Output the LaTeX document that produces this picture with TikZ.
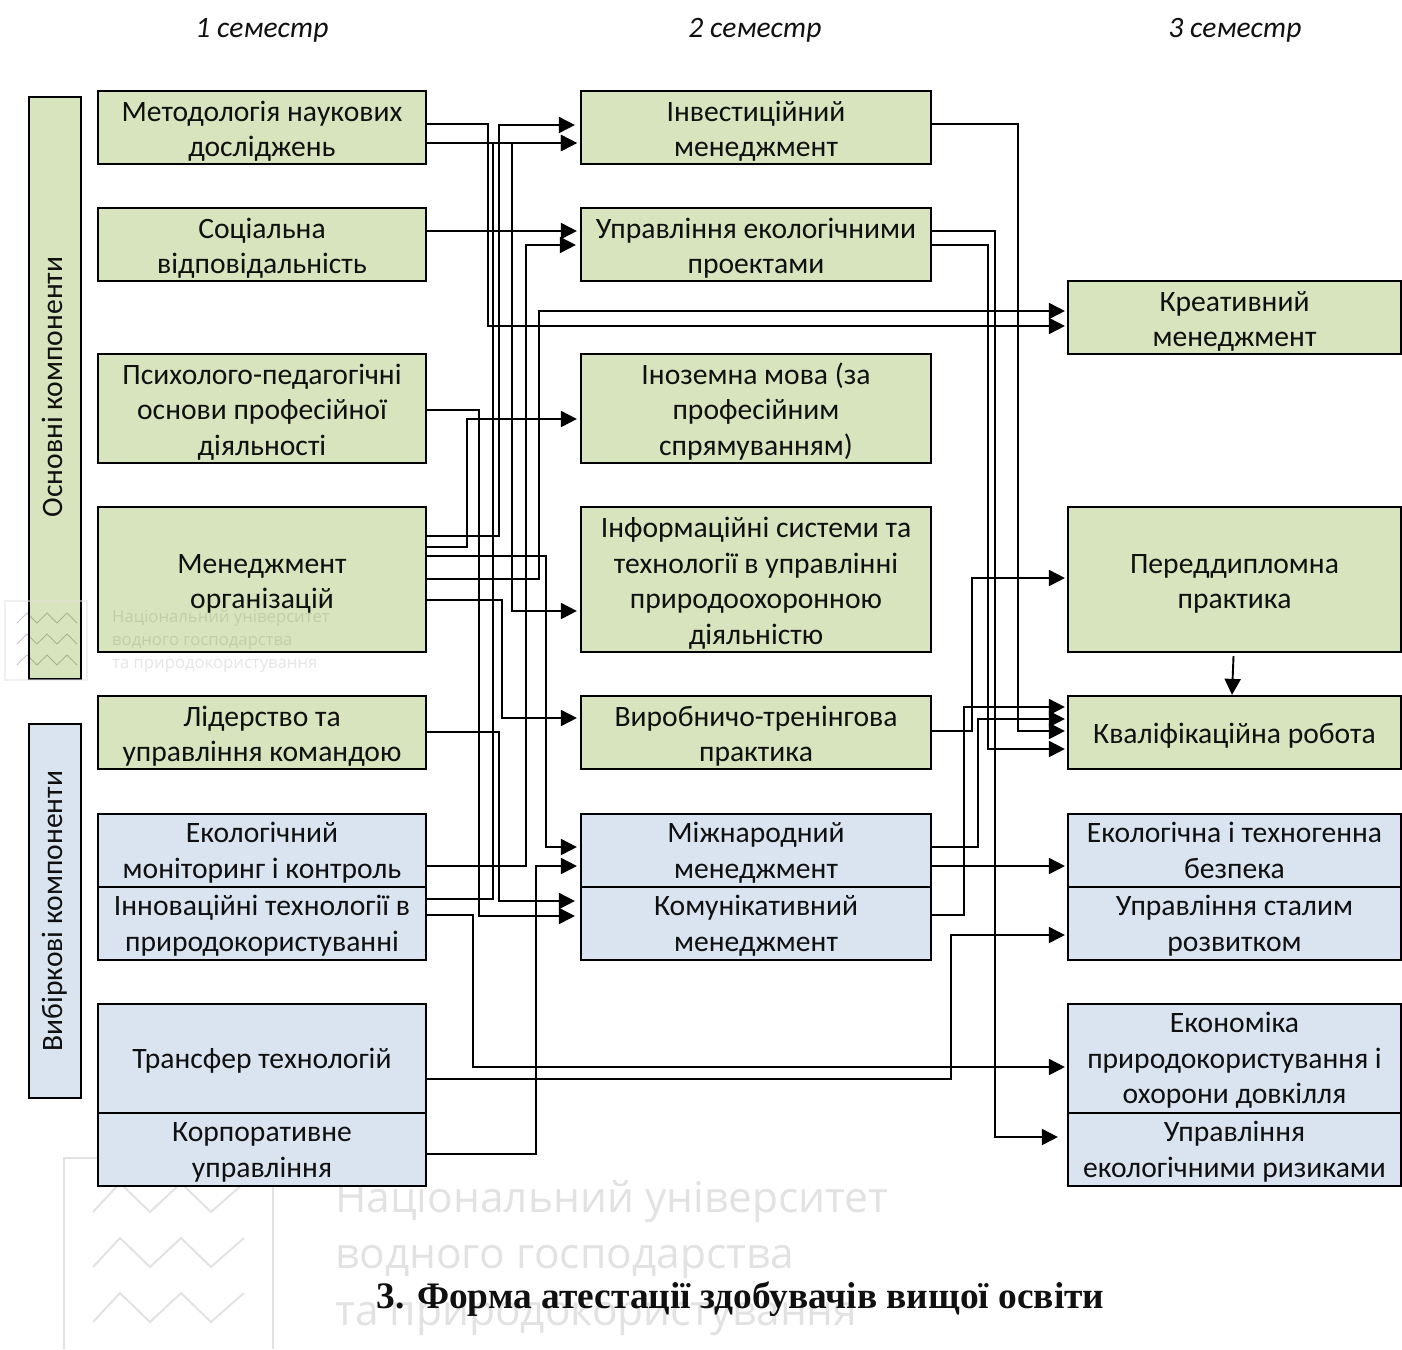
\documentclass[tikz,border=0pt]{standalone}
\usepackage{fontspec}
\setmainfont{Carlito}
\newfontfamily\titlefont{Liberation Serif}
\newfontfamily\markfont{Open Sans}
\usetikzlibrary{arrows.meta}
\definecolor{gn}{HTML}{D8E4BD}
\definecolor{bl}{HTML}{DAE4F1}
\definecolor{ink}{HTML}{101010}
\definecolor{wm}{HTML}{E2E2E2}
\newcommand\gtxt[1]{\raisebox{-10.4pt}[0pt][0pt]{\begin{tabular}[c]{@{}c@{}}#1\end{tabular}}}
\newcommand\btxt[1]{\raisebox{-8.9pt}[0pt][0pt]{\begin{tabular}[c]{@{}c@{}}#1\end{tabular}}}
\tikzset{
  boxbase/.style={draw=black,line width=2.2pt,inner sep=0pt,text=ink,
    font=\fontsize{29.6}{35.6}\selectfont},
  gbox/.style={boxbase,fill=gn},
  bbox/.style={boxbase,fill=bl},
  cola/.style={minimum width=328pt},
  colb/.style={minimum width=350pt},
  colc/.style={minimum width=333pt},
  conn/.style={line width=1.9pt,draw=black,shorten <=-2pt,shorten >=2pt,-{Triangle[length=16pt,width=16pt]}},
  head/.style={font=\fontsize{29.6}{30}\selectfont\itshape,text=ink},
  side/.style={boxbase,rotate=90,minimum height=52pt,line width=2.5pt},
  zig/.style={draw=wm,line width=2pt},
  marktext/.style={text=wm,inner sep=0pt,anchor=base west},
}
\begin{document}
\begin{tikzpicture}[x=1pt,y=-1pt]
\useasboundingbox (0,0) rectangle (1402,1349);
% large watermark (behind everything)
\draw[zig] (64,1349) -- (64,1158) -- (273,1158) -- (273,1349);
\foreach \yy in {0,55,110}{
  \draw[zig] (93,1212+\yy) -- (120,1183+\yy) -- (150,1212+\yy) -- (181,1183+\yy) -- (211,1212+\yy) -- (244,1183+\yy);
}
\node[marktext,font=\markfont\fontsize{42.5}{43}\selectfont] (wa) at (335,1212) {Національний університет};
\node[marktext,font=\markfont\fontsize{42.5}{43}\selectfont] (wb) at (335,1268) {водного господарства};
\node[marktext,font=\markfont\fontsize{42.5}{43}\selectfont] (wc) at (335,1325) {та природокористування};

% headers
\node[head] (h1) at (262,30) {1 семестр};
\node[head] (h2) at (755,30) {2 семестр};
\node[head] (h3) at (1235,30) {3 семестр};

% side boxes
\node[side,fill=gn,minimum width=582pt] (sa) at (55,388) {\raisebox{6pt}{\hspace*{2pt}Основні компоненти}};
\node[side,fill=bl,minimum width=374pt] (sb) at (55,911) {\raisebox{6pt}{Вибіркові компоненти}};

% column 1
\node[gbox,cola,minimum height=73pt] (m) at (262,127.5) {\gtxt{Методологія наукових\\досліджень}};
\node[gbox,cola,minimum height=73pt] (s) at (262,244.5) {\gtxt{Соціальна\\відповідальність}};
\node[gbox,cola,minimum height=109pt] (p) at (262,408.5) {\gtxt{Психолого-педагогічні\\основи професійної\\діяльності}};
\node[gbox,cola,minimum height=145pt] (o) at (262,579.5) {\gtxt{Менеджмент\\організацій}};
\node[gbox,cola,minimum height=73pt] (l) at (262,732.5) {\gtxt{Лідерство та\\управління командою}};
\node[bbox,cola,minimum height=73pt] (e) at (262,850.5) {\btxt{Екологічний\\моніторинг і контроль}};
\node[bbox,cola,minimum height=73pt] (i) at (262,923.5) {\btxt{Інноваційні технології в\\природокористуванні}};
\node[bbox,cola,minimum height=109pt] (t) at (262,1058.5) {\btxt{Трансфер технологій}};
\node[bbox,cola,minimum height=73pt] (k) at (262,1149.5) {\btxt{Корпоративне\\управління}};

% column 2
\node[gbox,colb,minimum height=73pt] (inv) at (756,127.5) {\gtxt{Інвестиційний\\менеджмент}};
\node[gbox,colb,minimum height=73pt] (upr) at (756,244.5) {\gtxt{Управління екологічними\\проектами}};
\node[gbox,colb,minimum height=109pt] (ino) at (756,408.5) {\gtxt{Іноземна мова (за\\професійним\\спрямуванням)}};
\node[gbox,colb,minimum height=145pt] (inf) at (756,579.5) {\gtxt{Інформаційні системи та\\технології в управлінні\\природоохоронною\\діяльністю}};
\node[gbox,colb,minimum height=73pt] (vyr) at (756,732.5) {\gtxt{Виробничо-тренінгова\\практика}};
\node[bbox,colb,minimum height=73pt] (miz) at (756,850.5) {\btxt{Міжнародний\\менеджмент}};
\node[bbox,colb,minimum height=73pt] (kom) at (756,923.5) {\btxt{Комунікативний\\менеджмент}};

% column 3
\node[gbox,colc,minimum height=73pt] (kre) at (1234.5,317.5) {\gtxt{Креативний\\менеджмент}};
\node[gbox,colc,minimum height=145pt] (per) at (1234.5,579.5) {\gtxt{Переддипломна\\практика}};
\node[gbox,colc,minimum height=73pt] (kva) at (1234.5,732.5) {\gtxt{Кваліфікаційна робота}};
\node[bbox,colc,minimum height=73pt] (ekb) at (1234.5,850.5) {\btxt{Екологічна і техногенна\\безпека}};
\node[bbox,colc,minimum height=73pt] (sta) at (1234.5,923.5) {\btxt{Управління сталим\\розвитком}};
\node[bbox,colc,minimum height=109pt] (eko) at (1234.5,1058.5) {\btxt{Економіка\\природокористування і\\охорони довкілля}};
\node[bbox,colc,minimum height=73pt] (riz) at (1234.5,1149.5) {\btxt{Управління\\екологічними ризиками}};

% title
\node[inner sep=0pt,anchor=base,text=ink,font=\titlefont\bfseries\fontsize{37.4}{38}\selectfont] (ttl) at (740.5,1308) {3. Форма атестації здобувачів вищої освіти};

% connectors col 1 -> col 2
\draw[conn] (m.east|-0,124) -- (488,124) -- (488,326) -- (kre.west|-0,326);
\draw[conn,shorten >=3pt] (m.east|-0,143) -- (inv.west|-0,143);
\draw[conn,shorten >=3pt] (m.east|-0,143) -- (512,143) -- (512,611) -- (inf.west|-0,611);
\draw[conn,shorten >=5pt] (o.east|-0,536) -- (499,536) -- (499,125) -- (inv.west|-0,125);
\draw[conn,shorten >=3pt] (i.east|-0,899) -- (493,899) -- (493,143) -- (inv.west|-0,143);
\draw[conn,shorten >=3pt] (s.east|-0,231) -- (upr.west|-0,231);
\draw[conn,shorten >=4pt] (e.east|-0,866) -- (526,866) -- (526,245) -- (upr.west|-0,245);
\draw[conn] (o.east|-0,579) -- (539,579) -- (539,311) -- (kre.west|-0,311);
\draw[conn,shorten >=5pt] (p.east|-0,410) -- (479,410) -- (479,916) -- (kom.west|-0,916);
\draw[conn,shorten >=3pt] (o.east|-0,547) -- (467,547) -- (467,419) -- (ino.west|-0,419);
\draw[conn,shorten >=3pt] (o.east|-0,556) -- (546,556) -- (546,847) -- (miz.west|-0,847);
\draw[conn,shorten >=3pt] (o.east|-0,600) -- (502,600) -- (502,718) -- (vyr.west|-0,718);
\draw[conn,shorten >=5pt] (l.east|-0,732) -- (499,732) -- (499,901) -- (kom.west|-0,901);
\draw[conn,shorten >=3pt] (k.east|-0,1154) -- (536,1154) -- (536,866) -- (miz.west|-0,866);
\draw[conn] (i.east|-0,915) -- (473,915) -- (473,1067) -- (eko.west|-0,1067);
\draw[conn] (t.east|-0,1079) -- (951,1079) -- (951,935) -- (sta.west|-0,935);

% connectors col 2 -> col 3
\draw[conn] (inv.east|-0,124) -- (1018,124) -- (1018,731) -- (kva.west|-0,731);
\draw[conn,shorten >=9pt] (upr.east|-0,231) -- (995,231) -- (995,1137) -- (riz.west|-0,1137);
\draw[conn] (upr.east|-0,245) -- (988,245) -- (988,749) -- (kva.west|-0,749);
\draw[conn] (vyr.east|-0,731) -- (972,731) -- (972,578) -- (per.west|-0,578);
\draw[conn] (miz.east|-0,847) -- (978,847) -- (978,719) -- (kva.west|-0,719);
\draw[conn] (kom.east|-0,915) -- (964,915) -- (964,707) -- (kva.west|-0,707);
\draw[conn] (miz.east|-0,866) -- (ekb.west|-0,866);
\draw[conn,shorten <=0pt,shorten >=0pt] (per.south) ++(-1,3) -- (kva.north -| 1232,0);

% small watermark on top
\draw[draw=wm,line width=1.2pt,opacity=0.5] (5,601) rectangle (87,680);
\foreach \yy in {0,21,42}{
  \draw[draw=black,opacity=0.22,line width=1pt] (17,623+\yy) -- (27,613+\yy) -- (37,623+\yy) -- (47,613+\yy) -- (57,623+\yy) -- (67,613+\yy) -- (77,623+\yy);
}
\node[marktext,text=black,text opacity=0.1,font=\markfont\fontsize{16.7}{17}\selectfont] (wd) at (112,622) {Національний університет};
\node[marktext,text=black,text opacity=0.1,font=\markfont\fontsize{16.7}{17}\selectfont] (we) at (112,645) {водного господарства};
\node[marktext,text=black,text opacity=0.1,font=\markfont\fontsize{16.7}{17}\selectfont] (wf) at (112,668) {та природокористування};
\end{tikzpicture}
\end{document}
